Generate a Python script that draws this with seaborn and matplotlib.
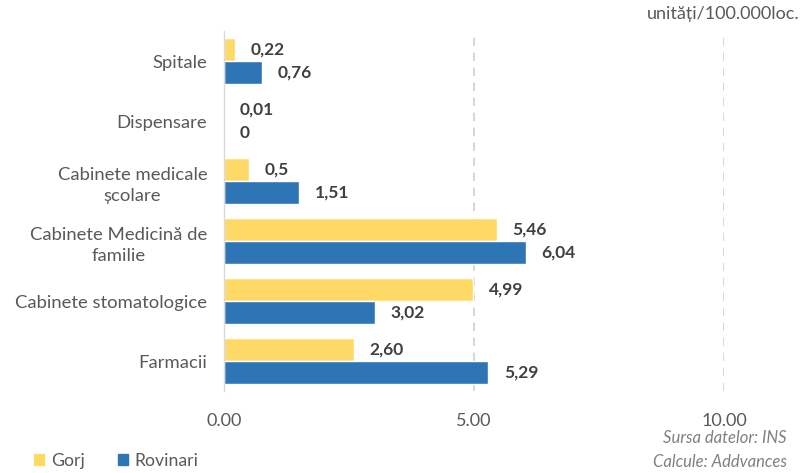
import matplotlib
matplotlib.use("Agg")
import matplotlib.pyplot as plt
import seaborn as sns
import pandas as pd
from matplotlib.patches import Patch

categories = ["Spitale", "Dispensare", "Cabinete medicale\nșcolare",
              "Cabinete Medicină de\nfamilie", "Cabinete stomatologice", "Farmacii"]
series_names = ["Gorj", "Rovinari"]
gorj = [0.22, 0.01, 0.5, 5.46, 4.99, 2.60]
rovinari = [0.76, 0.0, 1.51, 6.04, 3.02, 5.29]
gorj_labels = ["0,22", "0,01", "0,5", "5,46", "4,99", "2,60"]
rovinari_labels = ["0,76", "0", "1,51", "6,04", "3,02", "5,29"]
tick_values = [0, 5, 10]
tick_labels = ["0.00", "5.00", "10.00"]
colors = ["#FFD966", "#2E75B6"]

df = pd.DataFrame({
    "cat": categories * 2,
    "serie": [series_names[0]] * len(categories) + [series_names[1]] * len(categories),
    "val": gorj + rovinari,
})

sns.set_theme(style="white")
plt.rcParams["font.family"] = ["Lato", "DejaVu Sans"]

fig = plt.figure(figsize=(8.04, 4.73), dpi=100)
ax = fig.add_axes([224 / 804, 1 - 391 / 473, 500 / 804, 360 / 473])

sns.barplot(data=df, y="cat", x="val", hue="serie", orient="h",
            palette=colors, saturation=1, width=0.78, gap=0, ax=ax, legend=False,
            order=categories, hue_order=series_names)

for cont, labs in zip(ax.containers, [gorj_labels, rovinari_labels]):
    ax.bar_label(cont, labels=labs, padding=11, fontsize=12.5, fontweight="bold",
                 color="#404040")

ax.set_xlim(0, 10)
ax.set_xticks(tick_values)
ax.set_xticklabels(tick_labels, color="#595959", fontsize=13)
ax.tick_params(axis="x", length=0, pad=16)
ax.tick_params(axis="y", length=0, pad=12, labelsize=13.3, labelcolor="#595959")
ax.set_xlabel("")
ax.set_ylabel("")
for x in tick_values[1:]:
    ax.axvline(x, color="#D0D0D0", linestyle=(0, (5, 4)), linewidth=1.2, zorder=0)
for s in ["top", "right", "bottom"]:
    ax.spines[s].set_visible(False)
ax.spines["left"].set_color("#D9D9D9")
ax.spines["left"].set_linewidth(1)
for lab in ax.get_yticklabels():
    lab.set_horizontalalignment("right")
    lab.set_multialignment("center")
    lab.set_linespacing(1.45)

fig.text(800 / 804, 1 - 14 / 473, "unități/100.000loc.", ha="right", va="center",
         fontsize=13, color="#595959")
fig.text(787 / 804, 1 - 438 / 473, "Sursa datelor: INS", ha="right", va="center",
         fontsize=12, color="#808080", style="italic")
fig.text(787 / 804, 1 - 462 / 473, "Calcule: Addvances", ha="right", va="center",
         fontsize=12, color="#808080", style="italic")

handles = [Patch(color=c) for c in colors]
fig.legend(handles, series_names, loc="center left", bbox_to_anchor=(18 / 804, 1 - 461 / 473),
           ncol=2, frameon=False, fontsize=12.7, handlelength=0.55, handleheight=0.55,
           handletextpad=0.4, columnspacing=1.9, labelcolor="#595959")

fig.savefig("out.png", dpi=100)
